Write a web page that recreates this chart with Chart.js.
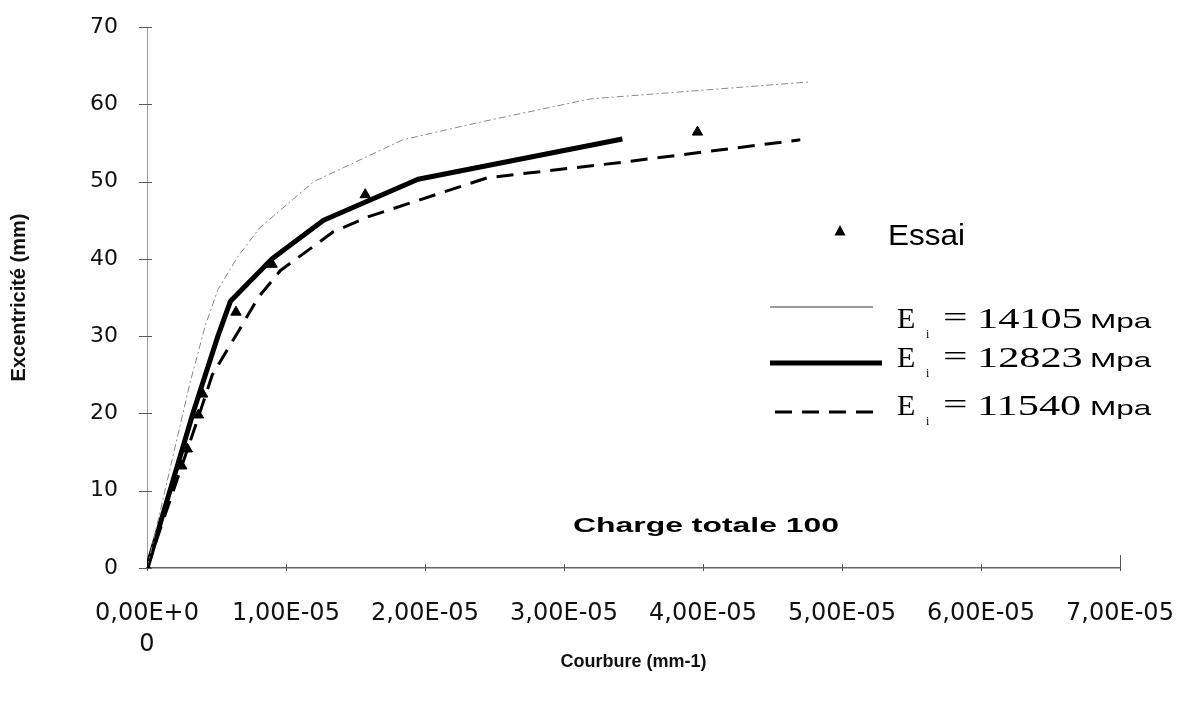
<!DOCTYPE html>
<html lang="fr">
<head>
<meta charset="utf-8">
<title>Excentricité – Courbure, charge totale 100</title>
<script src="https://cdn.jsdelivr.net/npm/chart.js@4/dist/chart.umd.min.js"></script>
<style>
  html, body { margin: 0; padding: 0; background: #fff; }
  canvas { display: block; }
</style>
</head>
<body>
<canvas id="chart" width="1181" height="704"></canvas>
<script>
// Courbure (mm-1) and excentricité (mm) for each modulus Ei
const courbure14105 = [0, 3.1e-6, 4.2e-6, 5.1e-6, 6.5e-6, 8.1e-6, 1.20e-5, 1.84e-5, 2.40e-5, 3.19e-5, 4.77e-5];
const excent14105   = [0, 24, 31.4, 36, 40.2, 44, 50, 55.4, 57.7, 60.7, 62.9];

const courbure12823 = [0, 3.3e-6, 5.1e-6, 6.0e-6, 9.0e-6, 1.27e-5, 1.95e-5, 3.42e-5];
const excent12823   = [0, 20, 30, 34.5, 40, 45, 50.3, 55.5];

const courbure11540 = [0, 3.6e-6, 4.7e-6, 6.7e-6, 8.0e-6, 9.6e-6, 1.34e-5, 1.60e-5, 2.45e-5, 3.42e-5, 4.70e-5];
const excent11540   = [0, 19, 25, 31, 35, 38.5, 43.5, 45.5, 50.5, 52.5, 55.4];

// Test measurements (Essai)
const courbureEssai = [0, 2.5e-6, 2.9e-6, 3.7e-6, 4.0e-6, 6.4e-6, 9.0e-6, 1.57e-5, 3.96e-5];
const excentEssai   = [0, 13.2, 15.4, 19.8, 22.5, 33.1, 39.3, 48.3, 56.4];

// Axis tick labels
const xTickLabels = [['0,00E+0', '0'], '1,00E-05', '2,00E-05', '3,00E-05', '4,00E-05', '5,00E-05', '6,00E-05', '7,00E-05'];
const yTickLabels = ['0', '10', '20', '30', '40', '50', '60', '70'];

// Legend entries
const moduleValues = ['14105', '12823', '11540'];
const moduleUnit = 'Mpa';
const essaiLabel = 'Essai';
const chargeLabel = 'Charge totale 100';

const toPoints = (xs, ys) => xs.map((x, i) => ({ x, y: ys[i] }));

const seriesStyles = [
  { borderColor: '#8a8a8a', borderWidth: 1, borderDash: [7, 3, 2, 3] },
  { borderColor: '#000000', borderWidth: 5, borderDash: [] },
  { borderColor: '#000000', borderWidth: 3, borderDash: [17, 10] }
];

// Short cross marks on both axes
const axisMarks = {
  id: 'axisMarks',
  beforeDatasetsDraw(chart) {
    const { ctx, scales: { x, y } } = chart;
    ctx.save();
    ctx.strokeStyle = '#555';
    ctx.lineWidth = 1;
    y.ticks.forEach(t => {
      const py = Math.round(y.getPixelForValue(t.value)) + 0.5;
      ctx.beginPath();
      ctx.moveTo(x.left - 8, py);
      ctx.lineTo(x.left + 5, py);
      ctx.stroke();
    });
    x.ticks.forEach((t, i) => {
      const px = Math.round(x.getPixelForValue(t.value)) + 0.5;
      const up = i === x.ticks.length - 1 ? 13 : 4;
      ctx.beginPath();
      ctx.moveTo(px, y.bottom - up);
      ctx.lineTo(px, y.bottom + 3);
      ctx.stroke();
    });
    ctx.restore();
  }
};

function drawText(ctx, str, x, y, font, sx, align) {
  ctx.save();
  ctx.font = font;
  ctx.textBaseline = 'alphabetic';
  ctx.textAlign = align || 'left';
  ctx.translate(x, y);
  ctx.scale(sx, 1);
  ctx.fillText(str, 0, 0);
  ctx.restore();
}

// Legend block and load annotation
const legendAndNotes = {
  id: 'legendAndNotes',
  afterDatasetsDraw(chart) {
    const ctx = chart.ctx;
    ctx.save();
    ctx.fillStyle = '#000';

    // Essai marker + label
    ctx.beginPath();
    ctx.moveTo(840, 225);
    ctx.lineTo(845.5, 235.5);
    ctx.lineTo(834.5, 235.5);
    ctx.closePath();
    ctx.fill();
    drawText(ctx, essaiLabel, 888, 245, '30px "Liberation Sans", Arial, sans-serif', 1.05);

    const rows = [
      { lineY: 307, x0: 770, x1: 873, base: 328 },
      { lineY: 363, x0: 770, x1: 882, base: 367 },
      { lineY: 412, x0: 775, x1: 878, base: 415 }
    ];
    rows.forEach((r, i) => {
      const st = seriesStyles[i];
      ctx.save();
      ctx.strokeStyle = i === 0 ? '#333' : st.borderColor;
      ctx.lineWidth = st.borderWidth;
      ctx.setLineDash(i === 0 ? [] : st.borderDash);
      ctx.beginPath();
      ctx.moveTo(r.x0, r.lineY);
      ctx.lineTo(r.x1, r.lineY);
      ctx.stroke();
      ctx.restore();

      const serif = '"Liberation Serif", "Times New Roman", serif';
      drawText(ctx, 'E', 897, r.base, '30px ' + serif, 1.0);
      drawText(ctx, 'i', 926, r.base + 10, '12px ' + serif, 1.0);
      drawText(ctx, '=', 943, r.base - 1, '30px ' + serif, 1.45);
      drawText(ctx, moduleValues[i], 977, r.base, '30px ' + serif, 1.41);
      drawText(ctx, moduleUnit, 1090, r.base, '21px "Liberation Sans", Arial, sans-serif', 1.5);
    });

    drawText(ctx, chargeLabel, 573, 532, 'bold 21px "Liberation Sans", Arial, sans-serif', 1.52);
    ctx.restore();
  }
};

const datasets = [
  { label: 'Ei = ' + moduleValues[0] + ' ' + moduleUnit, data: toPoints(courbure14105, excent14105) },
  { label: 'Ei = ' + moduleValues[1] + ' ' + moduleUnit, data: toPoints(courbure12823, excent12823) },
  { label: 'Ei = ' + moduleValues[2] + ' ' + moduleUnit, data: toPoints(courbure11540, excent11540) }
].map((d, i) => Object.assign(d, seriesStyles[i], {
  type: 'line',
  fill: false,
  tension: 0,
  pointRadius: 0,
  borderCapStyle: 'butt',
  borderJoinStyle: 'round',
  order: 2
}));

datasets.push({
  type: 'scatter',
  label: essaiLabel,
  data: toPoints(courbureEssai, excentEssai),
  pointStyle: 'triangle',
  pointRadius: 6,
  backgroundColor: '#000',
  borderColor: '#000',
  borderWidth: 1,
  order: 1
});

new Chart(document.getElementById('chart'), {
  type: 'line',
  data: { datasets },
  plugins: [axisMarks, legendAndNotes],
  options: {
    responsive: false,
    animation: false,
    devicePixelRatio: 1,
    layout: { padding: { top: 27, right: 61, left: 0, bottom: 0 } },
    plugins: {
      legend: { display: false },
      tooltip: { enabled: false },
      title: { display: false }
    },
    scales: {
      x: {
        type: 'linear',
        min: 0,
        max: 7e-5,
        afterFit: s => {
          s.height = 136;
          s.paddingLeft = 0; s.paddingRight = 0;
        },
        afterBuildTicks: s => { s.ticks = xTickLabels.map((_, i) => ({ value: i * 1e-5 })); },
        grid: { display: true, drawOnChartArea: false, drawTicks: false },
        border: { display: true, color: '#666', width: 1.5 },
        ticks: {
          padding: 30,
          color: '#111',
          maxRotation: 0,
          autoSkip: false,
          font: { family: '"DejaVu Sans", sans-serif', size: 24, lineHeight: 1.3 },
          callback: (v, i) => xTickLabels[i]
        },
        title: {
          display: true,
          text: 'Courbure (mm-1)',
          color: '#111',
          font: { family: '"Liberation Sans", Arial, sans-serif', size: 18, weight: 'bold', lineHeight: 1.2 },
          padding: { top: 0, bottom: 31 }
        }
      },
      y: {
        type: 'linear',
        min: 0,
        max: 70,
        afterFit: s => {
          s.width = 147;
          s.paddingTop = 0; s.paddingBottom = 0;
        },
        afterBuildTicks: s => { s.ticks = yTickLabels.map(v => ({ value: Number(v) })); },
        grid: { display: true, drawOnChartArea: false, drawTicks: false },
        border: { display: true, color: '#9a9a9a', width: 1, dash: [2, 5] },
        ticks: {
          padding: 29,
          color: '#111',
          autoSkip: false,
          font: { family: '"DejaVu Sans", sans-serif', size: 22 },
          callback: (v, i) => yTickLabels[i]
        },
        title: {
          display: true,
          text: 'Excentricité (mm)',
          color: '#111',
          font: { family: '"Liberation Sans", Arial, sans-serif', size: 20, weight: 'bold', lineHeight: 1.2 },
          padding: { top: 7, bottom: 0 }
        }
      }
    }
  }
});
</script>
</body>
</html>
